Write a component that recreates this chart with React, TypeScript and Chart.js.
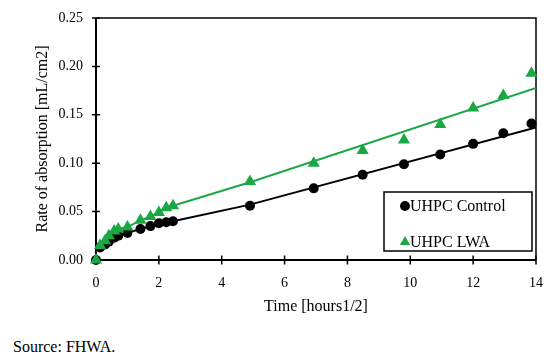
import React, { useEffect, useRef } from "react";
import { Chart, registerables } from "chart.js";

Chart.register(...registerables);

// time in hours^(1/2)
const timeSqrtHours = [0, 0.129, 0.289, 0.408, 0.577, 0.707, 1, 1.414, 1.732, 2, 2.236, 2.449, 4.899, 6.928, 8.485, 9.798, 10.954, 12, 12.961, 13.856];
const controlValues = [0, 0.013, 0.016, 0.019, 0.023, 0.025, 0.028, 0.032, 0.035, 0.038, 0.039, 0.040, 0.056, 0.074, 0.088, 0.099, 0.109, 0.120, 0.131, 0.141];
const lwaValues = [0, 0.015, 0.020, 0.025, 0.030, 0.032, 0.034, 0.041, 0.045, 0.049, 0.054, 0.056, 0.081, 0.100, 0.113, 0.124, 0.140, 0.157, 0.170, 0.193];

// trend lines: connected through early points, then a secondary fit to t = 14
const earlyLineIndexes = [1, 2, 3, 4, 5, 6, 7, 8, 9, 10, 11];
const secondaryFitX = [4.899, 14];
const controlFitY = [0.0572, 0.137];
const lwaFitY = [0.0803, 0.1777];

const yTicks = [0, 0.05, 0.1, 0.15, 0.2, 0.25];
const xTicks = [0, 2, 4, 6, 8, 10, 12, 14];

const seriesNames = ["UHPC Control", "UHPC LWA"];
const xTitle = "Time [hours1/2]";
const yTitle = "Rate of absorption [mL/cm2]";
const sourceText = "Source: FHWA.";

const BLACK = "#000000";
const GREEN = "#1aa845";
const FONT = "'Liberation Serif', 'Times New Roman', serif";

function pts(xs: number[], ys: number[]) {
  return xs.map((x, i) => ({ x, y: ys[i] }));
}

function lineData(values: number[], fitY: number[]) {
  const early = earlyLineIndexes.map((i) => ({ x: timeSqrtHours[i], y: values[i] }));
  return [...early, ...pts(secondaryFitX, fitY)];
}

const framePlugin = {
  id: "frame",
  beforeDatasetsDraw(chart: any) {
    const { ctx, chartArea, scales } = chart;
    const { left, right, top, bottom } = chartArea;
    ctx.save();
    ctx.strokeStyle = "#000";
    ctx.lineWidth = 1.5;
    ctx.beginPath();
    ctx.moveTo(left, top);
    ctx.lineTo(right, top);
    ctx.lineTo(right, bottom);
    ctx.stroke();
    ctx.lineWidth = 2;
    ctx.beginPath();
    ctx.moveTo(left, top);
    ctx.lineTo(left, bottom);
    ctx.lineTo(right, bottom);
    ctx.stroke();
    ctx.lineWidth = 1.5;
    ctx.beginPath();
    scales.y.ticks.forEach((t: any) => {
      const py = scales.y.getPixelForValue(t.value);
      ctx.moveTo(left - 4, py);
      ctx.lineTo(left + 4, py);
    });
    scales.x.ticks.forEach((t: any) => {
      const px = scales.x.getPixelForValue(t.value);
      ctx.moveTo(px, bottom - 4.5);
      ctx.lineTo(px, bottom + 4.5);
    });
    ctx.stroke();
    ctx.restore();
  },
};

const legendPlugin = {
  id: "boxLegend",
  afterDraw(chart: any) {
    const { ctx, chartArea } = chart;
    const w = 148;
    const h = 59;
    const x0 = chartArea.right - 4 - w;
    const y0 = chartArea.bottom - 9 - h;
    ctx.save();
    ctx.fillStyle = "#fff";
    ctx.fillRect(x0, y0, w, h);
    ctx.strokeStyle = "#000";
    ctx.lineWidth = 1.5;
    ctx.strokeRect(x0, y0, w, h);
    ctx.font = `16px ${FONT}`;
    ctx.textBaseline = "middle";
    ctx.textAlign = "left";
    const rows = [y0 + 14, y0 + 50];
    [0, 1].forEach((i) => {
      const ds = chart.data.datasets[i];
      const cx = x0 + 21;
      const cy = rows[i];
      ctx.fillStyle = ds.pointBackgroundColor;
      ctx.beginPath();
      if (ds.pointStyle === "triangle") {
        const r = 6;
        ctx.moveTo(cx, cy - r);
        ctx.lineTo(cx + r * 0.866, cy + r * 0.5);
        ctx.lineTo(cx - r * 0.866, cy + r * 0.5);
        ctx.closePath();
      } else {
        ctx.arc(cx, cy, 5, 0, Math.PI * 2);
      }
      ctx.fill();
      ctx.fillStyle = "#000";
      ctx.fillText(ds.label, x0 + 26, cy + 1);
    });
    ctx.restore();
  },
};

export default function App() {
  const ref = useRef<HTMLCanvasElement | null>(null);

  useEffect(() => {
    if (!ref.current) return;
    const chart = new Chart(ref.current, {
      type: "scatter",
      data: {
        datasets: [
          {
            label: seriesNames[0],
            data: pts(timeSqrtHours, controlValues),
            pointStyle: "circle",
            pointRadius: 5,
            pointBackgroundColor: BLACK,
            pointBorderColor: BLACK,
            pointBorderWidth: 0,
            showLine: false,
            order: 0.5,
            clip: false,
          } as any,
          {
            label: seriesNames[1],
            data: pts(timeSqrtHours, lwaValues),
            pointStyle: "triangle",
            pointRadius: 7,
            pointBackgroundColor: GREEN,
            pointBorderColor: GREEN,
            pointBorderWidth: 0,
            showLine: false,
            order: 0,
            clip: false,
          } as any,
          {
            type: "line",
            label: "control trend",
            data: lineData(controlValues, controlFitY),
            borderColor: BLACK,
            borderWidth: 2,
            pointRadius: 0,
            fill: false,
            tension: 0,
            order: 1,
          } as any,
          {
            type: "line",
            label: "lwa trend",
            data: lineData(lwaValues, lwaFitY),
            borderColor: GREEN,
            borderWidth: 2,
            pointRadius: 0,
            fill: false,
            tension: 0,
            order: 1,
          } as any,
        ],
      },
      options: {
        animation: false,
        responsive: false,
        maintainAspectRatio: false,
        layout: { padding: { left: 0, right: 14, top: 18, bottom: 0 } },
        plugins: {
          legend: { display: false },
          tooltip: { enabled: false },
          title: { display: false },
        },
        scales: {
          x: {
            type: "linear",
            min: 0,
            max: 14,
            afterBuildTicks: (s: any) => {
              s.ticks = xTicks.map((v) => ({ value: v }));
            },
            ticks: {
              color: "#000",
              font: { family: FONT, size: 14 },
              padding: 15,
              maxRotation: 0,
            },
            grid: { display: false, drawTicks: false },
            border: { display: false },
            title: {
              display: true,
              text: xTitle,
              color: "#000",
              font: { family: FONT, size: 16 },
              padding: { top: 0, bottom: 4 },
            },
            afterFit: (s: any) => {
              s.height = 60;
              s.paddingLeft = 0;
              s.paddingRight = 0;
            },
          },
          y: {
            type: "linear",
            min: 0,
            max: 0.25,
            afterBuildTicks: (s: any) => {
              s.ticks = yTicks.map((v) => ({ value: v }));
            },
            ticks: {
              color: "#000",
              font: { family: FONT, size: 14 },
              padding: 13,
              callback: (v: any) => Number(v).toFixed(2),
            },
            grid: { display: false, drawTicks: false },
            border: { display: false },
            title: {
              display: true,
              text: yTitle,
              color: "#000",
              font: { family: FONT, size: 16 },
              padding: { top: 33, bottom: 0 },
            },
            afterFit: (s: any) => {
              s.width = 96;
              s.paddingTop = 0;
              s.paddingBottom = 0;
            },
          },
        },
      } as any,
      plugins: [framePlugin, legendPlugin],
    });
    return () => chart.destroy();
  }, []);

  return (
    <div style={{ position: "absolute", left: 0, top: 0, width: 550, height: 361, background: "#fff" }}>
      <canvas ref={ref} width={550} height={320} style={{ position: "absolute", left: 0, top: 0, width: 550, height: 320 }} />
      <div
        style={{
          position: "absolute",
          left: 13,
          top: 337,
          fontFamily: FONT,
          fontSize: 16,
          lineHeight: "20px",
          color: "#000",
          whiteSpace: "nowrap",
        }}
      >
        {sourceText}
      </div>
    </div>
  );
}
